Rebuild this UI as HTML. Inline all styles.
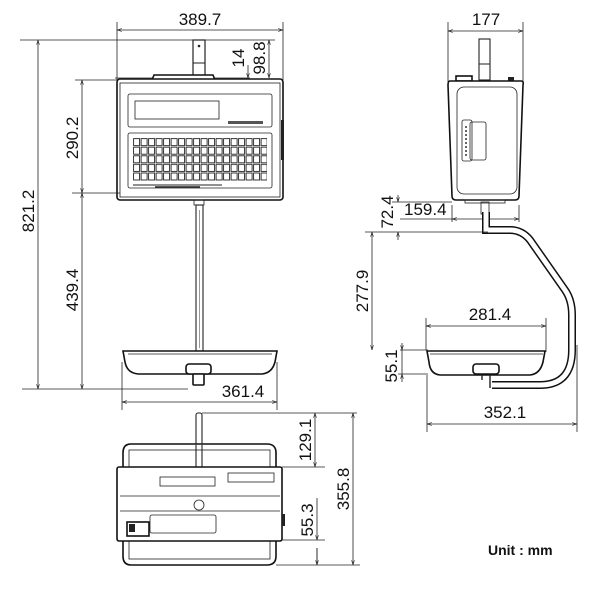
<!DOCTYPE html>
<html><head><meta charset="utf-8"><style>
html,body{margin:0;padding:0;background:#fff;}
svg{display:block;font-family:"Liberation Sans","DejaVu Sans",sans-serif;}
.d{stroke:#222;stroke-width:0.8;fill:none}
.t{font-size:17px;fill:#111}
.o{stroke:#111;stroke-width:1.6;fill:#fff}
.l{stroke:#222;stroke-width:0.8;fill:none}
</style></head><body>
<svg width="600" height="600" viewBox="0 0 600 600">
<defs>
<marker id="a" viewBox="0 0 10 10" refX="10" refY="5" markerWidth="6" markerHeight="6" orient="auto-start-reverse"><path d="M0,2 L10,5 L0,8" fill="none" stroke="#222" stroke-width="1.2"/></marker>
<pattern id="k" x="133" y="138" width="7.5" height="8.6" patternUnits="userSpaceOnUse"><rect x="0.6" y="0.6" width="6" height="7" fill="#fff" stroke="#222" stroke-width="0.9"/></pattern>
</defs>

<!-- FRONT VIEW -->
<line class="d" x1="117" y1="22" x2="117" y2="80"/><line class="d" x1="283" y1="22" x2="283" y2="80"/>
<line class="d" x1="117" y1="30" x2="283" y2="30" marker-start="url(#a)" marker-end="url(#a)"/>
<text class="t" x="200" y="25" text-anchor="middle">389.7</text>
<line class="d" x1="20" y1="40" x2="275" y2="40"/>
<line class="d" x1="115" y1="78" x2="250" y2="78"/>
<line class="d" x1="248" y1="65" x2="248" y2="78" marker-end="url(#a)"/>
<line class="d" x1="248" y1="88" x2="248" y2="96" marker-start="url(#a)"/>
<line class="d" x1="269" y1="40" x2="269" y2="78" marker-start="url(#a)" marker-end="url(#a)"/>
<text class="t" transform="translate(244,58) rotate(-90)" text-anchor="middle">14</text>
<text class="t" transform="translate(265,58) rotate(-90)" text-anchor="middle">98.8</text>
<rect x="193" y="40" width="12" height="38" fill="#fff" stroke="#222" stroke-width="1.2"/>
<line x1="193" y1="63" x2="205" y2="63" stroke="#222"/>
<circle cx="199" cy="46" r="1.3" fill="#222"/>
<path d="M152,80 L154,75 L213,75 L215,80 Z" class="o"/>
<rect x="117" y="79" width="166" height="121" rx="3" class="o" stroke-width="2"/>
<rect x="120" y="83" width="160" height="114" class="l"/>
<rect x="128" y="94" width="144" height="33" rx="2" class="l" stroke-width="1"/>
<rect x="135" y="101" width="84" height="18" class="l" stroke-width="1"/>
<rect x="228" y="121" width="35" height="3" fill="#555"/>
<rect x="128" y="133" width="144" height="55" rx="2" class="l" stroke-width="1"/>
<rect x="133" y="138" width="90" height="43" fill="url(#k)"/>
<rect x="222" y="138" width="45" height="43" fill="url(#k)"/>
<line x1="133" y1="185" x2="222" y2="185" stroke="#222"/>
<line x1="155" y1="187" x2="200" y2="187" stroke="#222" stroke-width="1.5"/>
<rect x="281" y="120" width="3" height="40" fill="#222"/>
<rect x="194" y="200" width="10" height="5" class="l"/>
<!-- left dims -->
<line class="d" x1="75" y1="80" x2="118" y2="80"/>
<line class="d" x1="72" y1="193" x2="120" y2="193"/>
<line class="d" x1="22" y1="389" x2="188" y2="389"/>
<line class="d" x1="38" y1="40" x2="38" y2="389" marker-start="url(#a)" marker-end="url(#a)"/>
<line class="d" x1="82" y1="80" x2="82" y2="193" marker-start="url(#a)" marker-end="url(#a)"/>
<line class="d" x1="82" y1="193" x2="82" y2="389" marker-start="url(#a)" marker-end="url(#a)"/>
<text class="t" transform="translate(34,211) rotate(-90)" text-anchor="middle">821.2</text>
<text class="t" transform="translate(78,138) rotate(-90)" text-anchor="middle">290.2</text>
<text class="t" transform="translate(78,290) rotate(-90)" text-anchor="middle">439.4</text>
<!-- pole & tray -->
<rect x="196" y="205" width="7" height="146" fill="#fff" stroke="#222" stroke-width="1.1"/>
<line x1="199.5" y1="210" x2="199.5" y2="348" stroke="#555" stroke-width="0.6"/>
<path d="M123,351 L277,351 L275,362 Q272,373 262,374 L138,374 Q127,373 125,362 Z" class="o"/>
<line x1="128" y1="354" x2="272" y2="354" stroke="#222" stroke-width="0.8"/>
<rect x="186" y="364" width="25" height="10" rx="3" class="o" stroke-width="1"/>
<rect x="193" y="374" width="11" height="11" rx="1" class="o" stroke-width="1"/>
<line class="d" x1="122" y1="362" x2="122" y2="410"/><line class="d" x1="277" y1="362" x2="277" y2="410"/>
<line class="d" x1="122" y1="402" x2="277" y2="402" marker-start="url(#a)" marker-end="url(#a)"/>
<text class="t" x="243" y="397" text-anchor="middle">361.4</text>

<!-- SIDE VIEW -->
<line class="d" x1="448" y1="22" x2="448" y2="82"/><line class="d" x1="523" y1="22" x2="523" y2="82"/>
<line class="d" x1="448" y1="31" x2="523" y2="31" marker-start="url(#a)" marker-end="url(#a)"/>
<text class="t" x="486" y="25" text-anchor="middle">177</text>
<rect x="479" y="39" width="11" height="41" fill="#fff" stroke="#222" stroke-width="1.1"/>
<line x1="479" y1="64" x2="490" y2="64" stroke="#222"/>
<rect x="456" y="76" width="16" height="5" class="o" stroke-width="1"/>
<rect x="508" y="77" width="6" height="4" fill="#222"/>
<path d="M450,81 L521,81 Q524,81 523,85 L519,196 Q519,200 515,200 L456,200 Q452,200 452,196 L448,85 Q448,81 450,81 Z" class="o" stroke-width="2"/>
<rect x="457" y="87" width="60" height="107" rx="7" class="l" stroke-width="1.1"/>
<rect x="462" y="120" width="10" height="41" rx="2" class="l" stroke-width="1.1"/>
<rect x="470" y="122" width="16" height="38" rx="2" class="l" stroke-width="1.1"/>
<line x1="466" y1="126" x2="466" y2="156" stroke="#333" stroke-width="1.5" stroke-dasharray="2 2"/>
<rect x="465" y="200" width="40" height="3" class="l"/>
<rect x="481" y="202" width="8" height="12" class="l"/>
<line class="d" x1="392" y1="202" x2="452" y2="202"/>
<line class="d" x1="452" y1="205" x2="452" y2="222"/><line class="d" x1="519" y1="205" x2="519" y2="222"/>
<line class="d" x1="452" y1="219" x2="519" y2="219" marker-start="url(#a)" marker-end="url(#a)"/>
<line class="d" x1="400" y1="219" x2="452" y2="219"/>
<text class="t" x="404" y="215" font-size="15">159.4</text>
<line class="d" x1="398" y1="195" x2="398" y2="202" marker-end="url(#a)"/>
<line class="d" x1="398" y1="232" x2="398" y2="240" marker-start="url(#a)"/>
<text class="t" transform="translate(393,212) rotate(-90)" text-anchor="middle">72.4</text>
<!-- arm -->
<path d="M486,212 L486,230 L510,230 Q522,230 530,240 L565,290 Q572,300 572,315 L572,350 Q572,385 540,385 L492,385" fill="none" stroke="#111" stroke-width="8"/>
<path d="M486,212 L486,230 L510,230 Q522,230 530,240 L565,290 Q572,300 572,315 L572,350 Q572,385 540,385 L492,385" fill="none" stroke="#fff" stroke-width="5"/>
<line class="d" x1="365" y1="232" x2="488" y2="232"/>
<line class="d" x1="372" y1="232" x2="372" y2="350" marker-start="url(#a)" marker-end="url(#a)"/>
<text class="t" transform="translate(368,291) rotate(-90)" text-anchor="middle">277.9</text>
<path d="M427,351 L545,351 L543,362 Q540,374 530,375 L440,375 Q430,374 429,362 Z" class="o"/>
<line x1="430" y1="354" x2="543" y2="354" stroke="#222" stroke-width="0.8"/>
<rect x="473" y="364" width="26" height="10" rx="3" class="o" stroke-width="1"/>
<line x1="482" y1="374" x2="482" y2="380" stroke="#222" stroke-width="1.4"/>
<line x1="490" y1="374" x2="490" y2="388" stroke="#222" stroke-width="1.4"/>
<line class="d" x1="426" y1="318" x2="426" y2="350"/><line class="d" x1="546" y1="318" x2="546" y2="352"/>
<line class="d" x1="426" y1="326" x2="546" y2="326" marker-start="url(#a)" marker-end="url(#a)"/>
<text class="t" x="490" y="320" text-anchor="middle">281.4</text>
<line class="d" x1="398" y1="374" x2="428" y2="374"/>
<line class="d" x1="400" y1="350" x2="428" y2="350"/>
<line class="d" x1="402" y1="343" x2="402" y2="350" marker-end="url(#a)"/>
<line class="d" x1="402" y1="374" x2="402" y2="382" marker-start="url(#a)"/>
<line class="d" x1="402" y1="350" x2="402" y2="374"/>
<text class="t" transform="translate(397,366) rotate(-90)" text-anchor="middle">55.1</text>
<line class="d" x1="427" y1="375" x2="427" y2="432"/><line class="d" x1="577" y1="345" x2="577" y2="432"/>
<line class="d" x1="427" y1="424" x2="577" y2="424" marker-start="url(#a)" marker-end="url(#a)"/>
<text class="t" x="505" y="418" text-anchor="middle">352.1</text>

<!-- BOTTOM VIEW -->
<rect x="196" y="413" width="6" height="55" rx="2" fill="#fff" stroke="#222" stroke-width="1.1"/>
<path d="M131,444 L267,444 Q276,444 276,453 L276,556 Q276,565 267,565 L131,565 Q123,565 123,556 L123,453 Q123,444 131,444 Z" class="o" stroke-width="1.8"/>
<rect x="129" y="450" width="141" height="109" class="l"/>
<line x1="196" y1="445" x2="196" y2="468" stroke="#222" stroke-width="1.1"/><line x1="202" y1="445" x2="202" y2="468" stroke="#222" stroke-width="1.1"/>
<rect x="117" y="467" width="165" height="74" rx="2" class="o" stroke-width="1.6"/>
<line x1="120" y1="496" x2="280" y2="496" stroke="#222" stroke-width="0.8"/>
<line x1="120" y1="511" x2="280" y2="511" stroke="#222" stroke-width="0.8"/>
<rect x="160" y="477" width="55" height="9" class="l" stroke-width="1.1"/>
<rect x="228" y="473" width="46" height="9" class="l" stroke-width="1.1"/>
<circle cx="199" cy="505" r="5" class="l" stroke-width="1.5"/>
<rect x="150" y="515" width="66" height="18" rx="2" class="l" stroke-width="1.2"/>
<rect x="127" y="522" width="22" height="14" class="o" stroke-width="1"/>
<rect x="129" y="524" width="6" height="8" fill="#222"/>
<rect x="282" y="514" width="3" height="12" fill="#222"/>
<line class="d" x1="202" y1="413" x2="357" y2="413"/>
<line class="d" x1="282" y1="467" x2="325" y2="467"/>
<line class="d" x1="282" y1="540" x2="325" y2="540"/>
<line class="d" x1="276" y1="565" x2="360" y2="565"/>
<line class="d" x1="315" y1="413" x2="315" y2="467" marker-start="url(#a)" marker-end="url(#a)"/>
<text class="t" transform="translate(311,440) rotate(-90)" text-anchor="middle">129.1</text>
<line class="d" x1="353" y1="413" x2="353" y2="565" marker-start="url(#a)" marker-end="url(#a)"/>
<text class="t" transform="translate(349,489) rotate(-90)" text-anchor="middle">355.8</text>
<line class="d" x1="317" y1="498" x2="317" y2="540" marker-end="url(#a)"/>
<line class="d" x1="317" y1="565" x2="317" y2="548" />
<line class="d" x1="317" y1="548" x2="317" y2="565" marker-end="url(#a)"/>
<text class="t" transform="translate(313,520) rotate(-90)" text-anchor="middle">55.3</text>

<text x="488" y="555" font-size="14" font-weight="bold" fill="#111">Unit : mm</text>
</svg>
</body></html>
